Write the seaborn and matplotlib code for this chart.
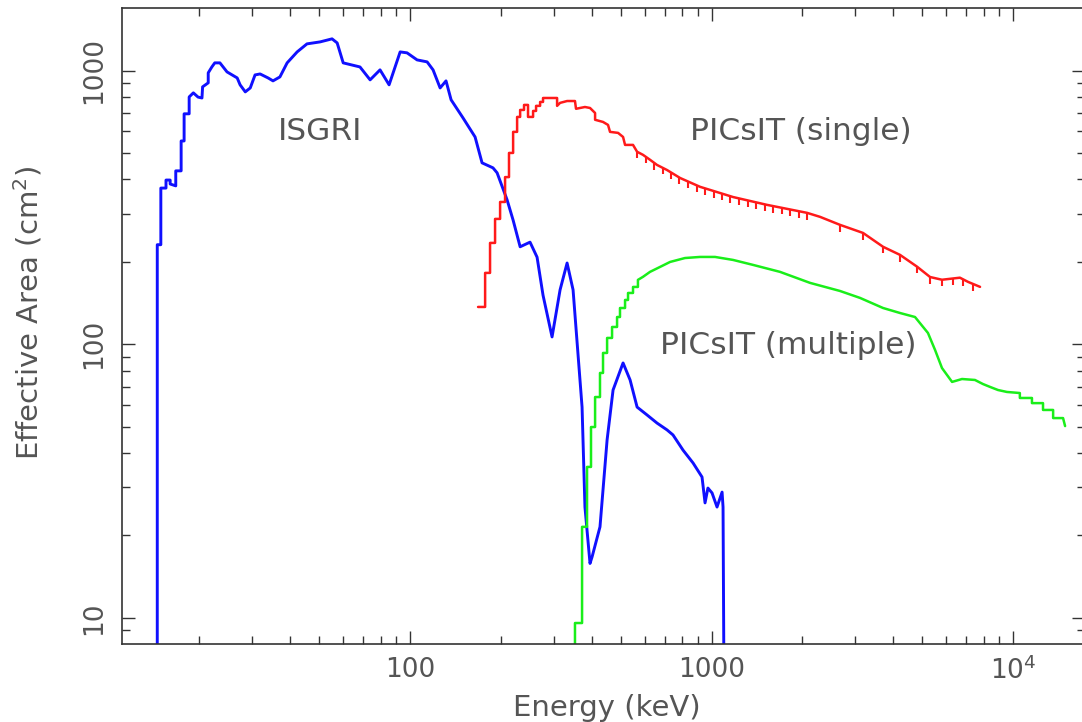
import numpy as np
import pandas as pd
import matplotlib
matplotlib.use("Agg")
import matplotlib.pyplot as plt
import matplotlib.ticker as mticker
import seaborn as sns

# ---------------- data ----------------
isgri_energy = [14.5, 14.5, 14.9, 14.9, 15.5, 15.5, 16.0, 16.0, 16.7, 16.7, 17.4, 17.4, 17.8, 17.8,
                18.5, 18.5, 19.1, 19.8, 20.4, 20.5, 21.4, 21.4, 22.0, 22.5, 23.4, 24.7, 26.7, 27.3,
                28.4, 29.5, 30.6, 31.8, 33.8, 35.1, 37.0, 39.1, 42.2, 45.5, 50.3, 55.1, 57.3, 60.0,
                68.2, 73.7, 79.5, 85.2, 92.7, 97.7, 105.5, 113.9, 119.2, 125.8, 131.6, 136.8, 149.9,
                164.3, 173.3, 188.4, 194.4, 209.8, 219.7, 231.8, 250.0, 263.8, 276.1, 295.8, 314.5,
                331.8, 347.3, 372.0, 380.3, 395.3, 401.6, 426.6, 450.4, 471.4, 508.8, 536.9, 566.4,
                611.4, 659.4, 712.0, 745.0, 804.5, 868.5, 930.0, 951.7, 972.8, 1004.0, 1043.0,
                1084.0, 1092.0, 1109.0]
isgri_area = [1.0, 231, 231, 372, 372, 398, 398, 385, 379, 430, 430, 553, 553, 695,
              695, 801, 829, 800, 794, 872, 902, 981, 1031, 1067, 1067, 989, 940, 887,
              836, 864, 964, 972, 940, 917, 948, 1067, 1170, 1252, 1273, 1306, 1262, 1067,
              1031, 925, 1006, 887, 1170, 1161, 1094, 1076, 1006, 864, 917, 782, 671,
              572, 460, 441, 423, 337, 284, 227, 236, 208, 151, 106.3, 158,
              198, 158, 58.9, 25.4, 15.8, 16.7, 21.5, 44.7, 68.0, 85.4, 74.0, 58.9,
              55.1, 51.5, 48.6, 46.6, 41.0, 36.8, 32.7, 26.3, 29.8, 28.6, 25.4,
              28.8, 25.4, 1.0]

single_energy = [168.1, 177.4, 177.4, 184.2, 184.2, 191.4, 191.4, 198.9, 198.9, 206.6, 206.6,
                 212.9, 212.9, 219.7, 219.7, 226.5, 226.5, 231.8, 231.8, 238.8, 238.8, 246.2,
                 246.2, 255.9, 255.9, 261.8, 261.8, 270.0, 270.0, 276.1, 276.1, 307.4, 307.4,
                 314.5, 331.8, 352.4, 355.2, 380.3, 395.3, 410.9, 410.9, 436.6, 453.6, 460.6,
                 489.7, 508.8, 516.6, 549.0, 566.4, 592.6, 625.2, 659.4, 712.0, 786.5, 916.0,
                 1179, 1528, 2075, 2291, 2668, 3182, 3707, 4221, 4806, 5309, 5815, 6668, 7090,
                 7776]
single_area = [136.8, 136.8, 182.2, 182.2, 234.5, 234.5, 287, 287, 331, 331, 408,
               408, 500, 500, 597, 597, 677, 677, 718, 718, 749, 749,
               677, 677, 712, 712, 743, 743, 768, 768, 794, 794, 743,
               762, 774, 774, 725, 736, 730, 700, 661, 649, 633, 597,
               592, 572, 535, 535, 505, 492, 472, 452, 433, 405, 376,
               345, 323, 302, 292, 273, 255, 227, 212, 192, 176, 172, 175, 169,
               162]
# energies of the small downward ticks on the PICsIT (single) curve
single_tooth_energy = [566, 604, 645, 688, 734, 783, 836, 892, 952, 1016, 1084, 1156, 1234,
                       1317, 1406, 1500, 1600, 1707, 1821, 1944, 2075, 2668, 3182, 3707,
                       4221, 4806, 5309, 5815, 6324, 6823, 7372]

multiple_energy = [352.4, 352.4, 372.0, 372.0, 386.4, 386.4, 398.3, 398.3, 410.9, 410.9, 426.6,
                   426.6, 436.6, 436.6, 450.4, 450.4, 467.8, 467.8, 486.0, 486.0, 497.0, 497.0,
                   516.6, 516.6, 528.5, 528.5, 549.0, 549.0, 570.0, 570.0, 592.6, 625.2, 674.9,
                   728.7, 816.6, 916.0, 1027, 1179, 1373, 1687, 2123, 2668, 3110, 3707, 4221,
                   4732, 5224, 5514, 5815, 6280, 6776, 7480, 7954, 8393, 8920, 9550, 10540,
                   10540, 11560, 11560, 12580, 12580, 13590, 13590, 14660, 14890]
multiple_area = [1.0, 9.57, 9.57, 21.5, 21.5, 35.6, 35.6, 49.8, 49.8, 64.1, 64.1,
                 78.5, 78.5, 92.9, 92.9, 105.4, 105.4, 115.6, 115.6, 125.7, 125.7, 135.6,
                 135.6, 145.1, 145.1, 153.9, 153.9, 161.9, 161.9, 171.8, 176.3, 183.8, 191.6,
                 199.8, 206.5, 208.4, 208.4, 203.2, 194.9, 183.8, 167.5, 156.5, 147.6, 135.6, 130,
                 125.7, 109.9, 95.3, 81.8, 72.8, 74.6, 74.0, 71.5, 69.8, 68.0, 66.9, 66.3,
                 63.6, 63.6, 60.9, 60.9, 57.5, 57.5, 53.7, 53.7, 50.2]

x_tick_values = [100, 1000, 10000]
x_tick_labels = ["100", "1000", "10$^4$"]
y_tick_values = [10, 100, 1000]
y_tick_labels = ["10", "100", "1000"]

curve_labels = ["ISGRI", "PICsIT (single)", "PICsIT (multiple)"]
label_energy = [50.3, 1982, 1795]
label_area = [597, 597, 98.5]

# ---------------- figure ----------------
sns.set_style("ticks")
plt.rcParams["font.family"] = ["DejaVu Sans"]
plt.rcParams["mathtext.default"] = "regular"

TXT = "#555555"
fig = plt.figure(figsize=(10.82, 7.22), dpi=100)
ax = fig.add_axes([0.1128, 0.108, 0.8900, 0.881])
ax.set_xscale("log")
ax.set_yscale("log")

sns.lineplot(x=isgri_energy, y=isgri_area, sort=False, estimator=None, ax=ax,
             color="#1010ff", lw=2.1)
sns.lineplot(x=single_energy, y=single_area, sort=False, estimator=None, ax=ax,
             color="#ff1a1a", lw=1.8)
sns.lineplot(x=multiple_energy, y=multiple_area, sort=False, estimator=None, ax=ax,
             color="#1aee1a", lw=1.8)

# teeth on the single curve
se = np.array(single_energy)
sa = np.array(single_area)
mask = se >= 560
tooth_top = 10 ** np.interp(np.log10(single_tooth_energy), np.log10(se[mask]), np.log10(sa[mask]))
ax.vlines(single_tooth_energy, tooth_top * 0.945, tooth_top, color="#ff1a1a", lw=1.5)

ax.set_xlim(11.08, 17340)
ax.set_ylim(8.02, 1694)

ax.xaxis.set_major_locator(mticker.FixedLocator(x_tick_values))
ax.xaxis.set_major_formatter(mticker.FixedFormatter(x_tick_labels))
ax.yaxis.set_major_locator(mticker.FixedLocator(y_tick_values))
ax.yaxis.set_major_formatter(mticker.FixedFormatter(y_tick_labels))
ax.xaxis.set_minor_locator(mticker.LogLocator(base=10, subs=np.arange(2, 10)))
ax.yaxis.set_minor_locator(mticker.LogLocator(base=10, subs=np.arange(2, 10)))
ax.xaxis.set_minor_formatter(mticker.NullFormatter())
ax.yaxis.set_minor_formatter(mticker.NullFormatter())

ax.tick_params(which="both", direction="in", top=True, right=True, color="#333333",
               width=1.0, labelcolor=TXT, labelsize=19)
ax.tick_params(which="major", length=9.5)
ax.tick_params(which="minor", length=5.5)
ax.tick_params(axis="x", which="major", pad=9)
ax.tick_params(axis="y", which="major", pad=11)
for lab in ax.get_yticklabels():
    lab.set_rotation(90)
    lab.set_va("center")

for sp in ax.spines.values():
    sp.set_color("#333333")
    sp.set_linewidth(1.2)

ax.set_xlabel("Energy (keV)", fontsize=21, color=TXT)
ax.set_ylabel("Effective Area (cm$^2$)", fontsize=21, color=TXT)
ax.xaxis.set_label_coords(0.503, -0.079)
ax.yaxis.set_label_coords(-0.081, 0.52)

for t, xe, ya in zip(curve_labels, label_energy, label_area):
    ax.text(xe, ya, t, fontsize=22.5, color=TXT, ha="center", va="center")

fig.savefig("out.png", dpi=100)
